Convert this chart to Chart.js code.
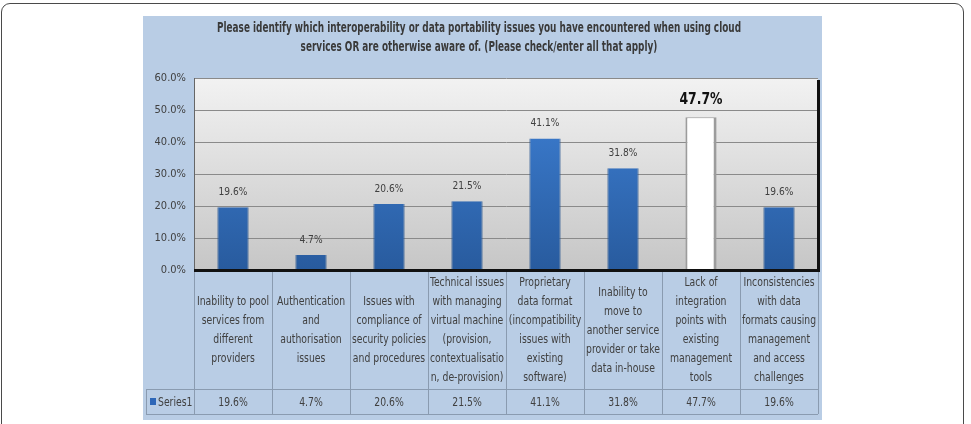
<!DOCTYPE html>
<html>
<head>
<meta charset="utf-8">
<script src="https://cdn.jsdelivr.net/npm/chart.js@4.4.1/dist/chart.umd.min.js"></script>
<style>
  body { margin: 0; background: #fff; }
  #frame { position: absolute; left: 1px; top: 3px; width: 961px; height: 440px;
           border: 1.5px solid #4a4a4a; border-radius: 9px; }
  #panel { position: absolute; left: 143px; top: 16px; width: 679px; height: 404px; background: #b9cde5; }
  #wrap { position: absolute; left: 0; top: 0; width: 971px; height: 424px; }
</style>
</head>
<body>
<div id="frame"></div>
<div id="panel"></div>
<div id="wrap"><canvas id="chart" width="971" height="424"></canvas></div>
<script>
const titleLines = [
  'Please identify which interoperability or data portability issues you have encountered when using cloud',
  'services OR are otherwise aware of. (Please check/enter all that apply)'
];
const categories = [
  ['Inability to pool', 'services from', 'different', 'providers'],
  ['Authentication', 'and', 'authorisation', 'issues'],
  ['Issues with', 'compliance of', 'security policies', 'and procedures'],
  ['Technical issues', 'with managing', 'virtual machine', '(provision,', 'contextualisatio', 'n, de-provision)'],
  ['Proprietary', 'data format', '(incompatibility', 'issues with', 'existing', 'software)'],
  ['Inability to', 'move to', 'another service', 'provider or take', 'data in-house'],
  ['Lack of', 'integration', 'points with', 'existing', 'management', 'tools'],
  ['Inconsistencies', 'with data', 'formats causing', 'management', 'and access', 'challenges']
];
const seriesName = 'Series1';
const series1 = [19.6, 4.7, 20.6, 21.5, 41.1, 31.8, 47.7, 19.6];
const highlightIndex = 6;

const FONT = '"DejaVu Sans Condensed", "Liberation Sans Narrow", "Open Sans", sans-serif';
const TEXT = '#404040';

// squeezed text, a bit like Calibri
function squeezed(ctx, txt, x, y, sx) {
  ctx.save();
  ctx.translate(x, y);
  ctx.scale(sx, 1);
  ctx.fillText(txt, 0, 0);
  ctx.restore();
}

// grey gradient behind the plot + title
const plotBg = {
  id: 'plotBg',
  beforeDraw(chart) {
    const { ctx, chartArea: a } = chart;
    const g = ctx.createLinearGradient(0, a.top, 0, a.bottom);
    g.addColorStop(0, '#f2f2f2');
    g.addColorStop(1, '#c6c6c6');
    ctx.save();
    ctx.fillStyle = g;
    ctx.fillRect(a.left, a.top, a.right - a.left, a.bottom - a.top);

    ctx.font = 'bold 14px ' + FONT;
    ctx.fillStyle = '#3a3a3a';
    ctx.textAlign = 'center';
    ctx.textBaseline = 'middle';
    const sx = 524 / ctx.measureText(titleLines[0]).width;
    titleLines.forEach((ln, i) => squeezed(ctx, ln, 479, 28 + i * 19.5, sx));
    ctx.restore();
  }
};

// value labels, black floor and shadow on the right
const deco = {
  id: 'deco',
  afterDatasetsDraw(chart) {
    const { ctx, chartArea: a } = chart;
    ctx.save();
    ctx.fillStyle = '#111';
    ctx.fillRect(a.left, a.bottom - 1, a.right - a.left + 2, 3);
    ctx.fillRect(a.right - 1, a.top + 2, 3, a.bottom - a.top);
    const meta = chart.getDatasetMeta(0);
    ctx.textAlign = 'center';
    ctx.textBaseline = 'middle';
    meta.data.forEach((bar, i) => {
      const txt = series1[i].toFixed(1) + '%';
      if (i === highlightIndex) {
        ctx.font = 'bold 15px ' + FONT;
        ctx.fillStyle = '#111';
        squeezed(ctx, txt, bar.x, bar.y - 17, 0.92);
      } else {
        ctx.font = '11px ' + FONT;
        ctx.fillStyle = TEXT;
        squeezed(ctx, txt, bar.x, bar.y - 15, 0.92);
      }
    });
    ctx.restore();
  }
};

// data table under the plot
const dataTable = {
  id: 'dataTable',
  afterDraw(chart) {
    const { ctx, chartArea: a } = chart;
    const x = chart.scales.x;
    const step = (a.right - a.left) / categories.length;
    const top = a.bottom + 2, mid = 389, bot = 414, firstLeft = 146;
    ctx.save();
    ctx.strokeStyle = '#8a9bb0';
    ctx.lineWidth = 1;
    ctx.beginPath();
    ctx.moveTo(firstLeft, mid + 0.5); ctx.lineTo(a.right, mid + 0.5);
    ctx.moveTo(firstLeft, bot + 0.5); ctx.lineTo(a.right, bot + 0.5);
    ctx.moveTo(firstLeft + 0.5, mid); ctx.lineTo(firstLeft + 0.5, bot);
    for (let i = 0; i <= categories.length; i++) {
      const px = Math.round(a.left + i * step) + 0.5;
      ctx.moveTo(px, top); ctx.lineTo(px, bot);
    }
    ctx.stroke();

    ctx.font = '12px ' + FONT;
    ctx.fillStyle = TEXT;
    ctx.textAlign = 'center';
    ctx.textBaseline = 'middle';
    const cy = (top + mid) / 2;
    categories.forEach((lines, i) => {
      const cx = x.getPixelForValue(i);
      const y0 = cy - (lines.length - 1) * 19 / 2;
      lines.forEach((ln, j) => {
        const w = ctx.measureText(ln).width;
        const sx = Math.min(0.86, (step - 4) / w);
        squeezed(ctx, ln, cx, y0 + j * 19, sx);
      });
      squeezed(ctx, series1[i].toFixed(1) + '%', cx, (mid + bot) / 2 + 1, 0.86);
    });
    ctx.fillStyle = '#2e67b8';
    ctx.fillRect(150, 398, 6, 7);
    ctx.fillStyle = TEXT;
    ctx.textAlign = 'left';
    squeezed(ctx, seriesName, 158, (mid + bot) / 2 + 1, 0.86);
    ctx.restore();
  }
};

new Chart(document.getElementById('chart'), {
  type: 'bar',
  data: {
    labels: categories.map(c => c.join(' ')),
    datasets: [{
      label: seriesName,
      data: series1,
      barPercentage: 0.4,
      categoryPercentage: 1,
      backgroundColor(c) {
        if (c.dataIndex === highlightIndex) return '#ffffff';
        const a = c.chart.chartArea;
        if (!a) return '#3370c0';
        const g = c.chart.ctx.createLinearGradient(0, a.top, 0, a.bottom);
        g.addColorStop(0, '#3f82d8');
        g.addColorStop(1, '#285b9e');
        return g;
      },
      borderColor(c) {
        return c.dataIndex === highlightIndex ? '#9c9c9c' : '#27558f';
      },
      borderWidth(c) {
        return c.dataIndex === highlightIndex
          ? { left: 2, right: 3, top: 1, bottom: 0 }
          : { left: 1, right: 1, top: 0, bottom: 0 };
      },
      borderSkipped: false
    }]
  },
  options: {
    responsive: false,
    animation: false,
    layout: { padding: { left: 145, right: 153, top: 78, bottom: 154 } },
    plugins: {
      legend: { display: false },
      tooltip: { enabled: false },
      title: { display: false }
    },
    scales: {
      x: { display: false },
      y: {
        min: 0,
        max: 60,
        afterFit(scale) { scale.width = 49; },
        ticks: {
          stepSize: 10,
          padding: 8,
          color: TEXT,
          font: { family: FONT, size: 11 },
          callback: v => v.toFixed(1) + '%'
        },
        grid: { color: '#8a8a8a', lineWidth: 1, drawTicks: false },
        border: { display: true, color: '#666', width: 1 }
      }
    }
  },
  plugins: [plotBg, deco, dataTable]
});
</script>
</body>
</html>
